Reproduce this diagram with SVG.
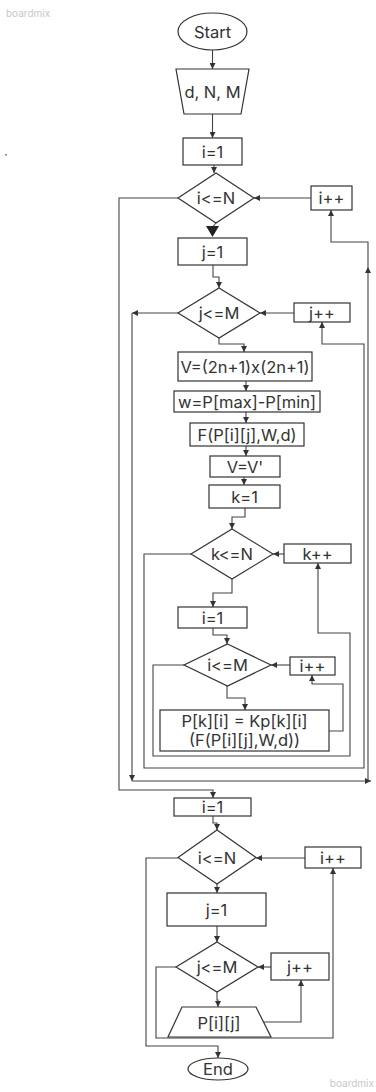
<svg xmlns="http://www.w3.org/2000/svg" width="376" height="1092" viewBox="0 0 376 1092">
<style>
.n{fill:#fff;stroke:#333;stroke-width:1.2}
.t{font-family:Inter,"Noto Sans",sans-serif;font-size:16.5px;fill:#333;text-anchor:middle;dominant-baseline:central}
.c{fill:none;stroke:#444;stroke-width:1.1}
.wm{font-family:Inter,"Noto Sans",sans-serif;font-size:10px;fill:#c8c8c8}
</style>
<defs>
<marker id="a" markerUnits="userSpaceOnUse" markerWidth="6" markerHeight="6" refX="6" refY="3" orient="auto">
<path d="M0,0 L6,3 L0,6 z" fill="#333"/>
</marker>
</defs>
<rect width="376" height="1092" fill="#fff"/>
<text class="wm" x="6" y="17">boardmix</text>
<text class="wm" x="374" y="1087" text-anchor="end">boardmix</text>
<text x="4" y="163" font-family="Inter,sans-serif" font-size="12" fill="#333">`</text>

<g id="connectors">
<path class="c" d="M212.5,50 V69" marker-end="url(#a)"/>
<path class="c" d="M212.5,114 V138" marker-end="url(#a)"/>
<path class="c" d="M214,165 V173" marker-end="url(#a)"/>
<path class="c" d="M216,223 L212.5,227"/>
<polygon points="206,226 219,226 212.5,237" fill="#222"/>
<path class="c" d="M213,265 V277 H219 V288" marker-end="url(#a)"/>
<path class="c" d="M219,338 V344 H244 V352" marker-end="url(#a)"/>
<path class="c" d="M246,381 V391" marker-end="url(#a)"/>
<path class="c" d="M246,412 V423" marker-end="url(#a)"/>
<path class="c" d="M246,446 V456" marker-end="url(#a)"/>
<path class="c" d="M244,477 V485" marker-end="url(#a)"/>
<path class="c" d="M245,508 V517 H232 V529" marker-end="url(#a)"/>
<path class="c" d="M232,579 V593 H213 V607" marker-end="url(#a)"/>
<path class="c" d="M213,628 V635 H227 V644" marker-end="url(#a)"/>
<path class="c" d="M227,686 V698 H245 V710" marker-end="url(#a)"/>
<path class="c" d="M329,731 H343 V684 H312 V675" marker-end="url(#a)"/>
<path class="c" d="M290,665 H271" marker-end="url(#a)"/>
<path class="c" d="M184,665 H153 V756 H350 V633 H318 V563" marker-end="url(#a)"/>
<path class="c" d="M284,554 H273" marker-end="url(#a)"/>
<path class="c" d="M191,554 H144 V768 H364 V344 H322 V322" marker-end="url(#a)"/>
<path class="c" d="M294,313 H260" marker-end="url(#a)"/>
<path class="c" d="M178,313 H132" marker-end="url(#a)"/>
<path class="c" d="M132,313 V781" marker-end="url(#a)"/>
<path class="c" d="M132,781 H371" marker-end="url(#a)"/>
<path class="c" d="M368,781 V242 H331 V210" marker-end="url(#a)"/>
<path d="M365,273 L368,267 L371,273 z" fill="#333"/>
<path class="c" d="M311,198 H254" marker-end="url(#a)"/>
<path class="c" d="M178,198 H119 V790 H213 V798" marker-end="url(#a)"/>
<path class="c" d="M213,816 V823 H217 V830" marker-end="url(#a)"/>
<path class="c" d="M217,884 V893" marker-end="url(#a)"/>
<path class="c" d="M217,926 V942" marker-end="url(#a)"/>
<path class="c" d="M217,992 V1000 H218 V1007" marker-end="url(#a)"/>
<path class="c" d="M263.5,1022 H301 V980" marker-end="url(#a)"/>
<path class="c" d="M271,967 H258" marker-end="url(#a)"/>
<path class="c" d="M176,967 H156 V1038 H333 V868" marker-end="url(#a)"/>
<path class="c" d="M305,858 H256" marker-end="url(#a)"/>
<path class="c" d="M178,858 H146 V1046 H218 V1058" marker-end="url(#a)"/>
</g>

<g id="start"><ellipse class="n" cx="212.5" cy="31.5" rx="34.5" ry="18.5"/><text class="t" x="212.5" y="31.5" font-size="17">Start</text></g>
<g id="input"><polygon class="n" points="176,69 249,69 241,114 184,114"/><text class="t" x="212.5" y="92" font-size="17">d, N, M</text></g>
<g id="i1"><rect class="n" x="183" y="138" width="59" height="27"/><text class="t" x="212.5" y="152">i=1</text></g>
<g id="condN"><polygon class="n" points="216,173 254,198 216,223 178,198"/><text class="t" x="216" y="198">i&lt;=N</text></g>
<g id="iinc"><rect class="n" x="311" y="186" width="41" height="24"/><text class="t" x="331.5" y="198">i++</text></g>
<g id="j1"><rect class="n" x="178" y="238" width="69" height="27"/><text class="t" x="212.5" y="252">j=1</text></g>
<g id="condM"><polygon class="n" points="219,288 260,313 219,338 178,313"/><text class="t" x="219" y="313">j&lt;=M</text></g>
<g id="jinc"><rect class="n" x="294" y="303" width="56" height="19"/><text class="t" x="322" y="313">j++</text></g>
<g id="vcalc"><rect class="n" x="178" y="352" width="134" height="29"/><text class="t" x="245" y="367">V=(2n+1)x(2n+1)</text></g>
<g id="wcalc"><rect class="n" x="174" y="391" width="146" height="21"/><text class="t" x="247" y="402">w=P[max]-P[min]</text></g>
<g id="fcalc"><rect class="n" x="190" y="423" width="114" height="23"/><text class="t" x="247" y="435">F(P[i][j],W,d)</text></g>
<g id="vprime"><rect class="n" x="210" y="456" width="70" height="21"/><text class="t" x="245" y="467">V=V'</text></g>
<g id="k1"><rect class="n" x="209" y="485" width="71" height="23"/><text class="t" x="244.5" y="497">k=1</text></g>
<g id="condK"><polygon class="n" points="232,529 273,554 232,579 191,554"/><text class="t" x="232" y="554">k&lt;=N</text></g>
<g id="kinc"><rect class="n" x="284" y="544" width="67" height="19"/><text class="t" x="317.5" y="554">k++</text></g>
<g id="i1b"><rect class="n" x="178" y="607" width="69" height="21"/><text class="t" x="212.5" y="618">i=1</text></g>
<g id="condIM"><polygon class="n" points="227.5,644 271,665 227.5,686 184,665"/><text class="t" x="227.5" y="665">i&lt;=M</text></g>
<g id="iinc2"><rect class="n" x="290" y="657" width="45" height="18"/><text class="t" x="312.5" y="666">i++</text></g>
<g id="pcalc"><rect class="n" x="160" y="710" width="169" height="41"/><text class="t" x="244.5" y="721">P[k][i] = Kp[k][i]</text><text class="t" x="244.5" y="740">(F(P[i][j],W,d))</text></g>
<g id="i1c"><rect class="n" x="174" y="798" width="77" height="18"/><text class="t" x="212.5" y="807">i=1</text></g>
<g id="condN2"><polygon class="n" points="217,830 256,857.5 217,884 178,857.5"/><text class="t" x="217" y="857.5">i&lt;=N</text></g>
<g id="iinc3"><rect class="n" x="305" y="847" width="56" height="21"/><text class="t" x="333" y="858">i++</text></g>
<g id="j1b"><rect class="n" x="167" y="893" width="99" height="33"/><text class="t" x="216.5" y="910">j=1</text></g>
<g id="condM2"><polygon class="n" points="217,942 258,967 217,992 176,967"/><text class="t" x="217" y="967">j&lt;=M</text></g>
<g id="jinc2"><rect class="n" x="271" y="953" width="58" height="27"/><text class="t" x="300" y="967">j++</text></g>
<g id="output"><polygon class="n" points="182,1007 256,1007 271,1037 168,1037"/><text class="t" x="219" y="1023">P[i][j]</text></g>
<g id="end"><ellipse class="n" cx="218" cy="1069" rx="30" ry="11"/><text class="t" x="218" y="1069" font-size="17">End</text></g>
</svg>
